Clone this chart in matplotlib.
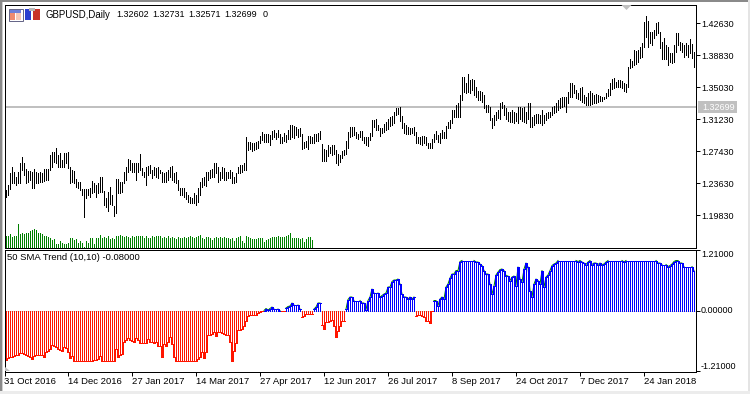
import matplotlib
matplotlib.use("Agg")
import matplotlib.pyplot as plt
import numpy as np
from matplotlib.patches import Rectangle, Polygon

plt.rcParams['font.family'] = ['Liberation Sans', 'DejaVu Sans']

highs = [
    1.2285, 1.2345, 1.2483, 1.2554, 1.2503, 1.2444, 1.2503, 1.2602, 1.2673, 1.2602,
    1.2531, 1.2515, 1.2515, 1.2503, 1.2531, 1.2503, 1.2491, 1.2503, 1.2491, 1.2531,
    1.2531, 1.2531, 1.2701, 1.2741, 1.2741, 1.2780, 1.2701, 1.2721, 1.2642, 1.2721,
    1.2729, 1.2741, 1.2562, 1.2523, 1.2515, 1.2412, 1.2384, 1.2384, 1.2293, 1.2293,
    1.2293, 1.2293, 1.2305, 1.2396, 1.2364, 1.2345, 1.2364, 1.2436, 1.2436, 1.2277,
    1.2186, 1.2265, 1.2325, 1.2226, 1.2095, 1.2412, 1.2412, 1.2384, 1.2384, 1.2503,
    1.2562, 1.2650, 1.2642, 1.2602, 1.2610, 1.2610, 1.2610, 1.2713, 1.2543, 1.2503,
    1.2562, 1.2570, 1.2582, 1.2523, 1.2562, 1.2543, 1.2554, 1.2523, 1.2503, 1.2491,
    1.2503, 1.2523, 1.2562, 1.2570, 1.2483, 1.2503, 1.2404, 1.2305, 1.2305, 1.2305,
    1.2265, 1.2226, 1.2206, 1.2186, 1.2246, 1.2226, 1.2305, 1.2384, 1.2424, 1.2436,
    1.2503, 1.2503, 1.2523, 1.2531, 1.2610, 1.2610, 1.2562, 1.2503, 1.2554, 1.2543,
    1.2503, 1.2503, 1.2523, 1.2503, 1.2444, 1.2483, 1.2562, 1.2582, 1.2582, 1.2602,
    1.2919, 1.2859,
    1.2859, 1.2848, 1.2840, 1.2851, 1.2871, 1.2927, 1.2974, 1.2950, 1.2947, 1.2947,
    1.2939, 1.2982, 1.2998, 1.2966, 1.2998, 1.2950, 1.2919, 1.2958, 1.2939, 1.2998,
    1.3057, 1.3053, 1.3045, 1.3030, 1.3006, 1.3018, 1.2950, 1.2859, 1.2871, 1.2927,
    1.2927, 1.2919, 1.2950, 1.2950, 1.2966, 1.2986, 1.2832, 1.2772, 1.2760, 1.2820,
    1.2800, 1.2820, 1.2820, 1.2760, 1.2713, 1.2701, 1.2748, 1.2760, 1.2867, 1.2978,
    1.3030, 1.3038, 1.3038, 1.2970, 1.2950, 1.2986, 1.2986, 1.2919, 1.2919, 1.2919,
    1.2958, 1.3117, 1.3117, 1.3125, 1.3057, 1.3026, 1.3026, 1.3069, 1.3097, 1.3125,
    1.3156, 1.3164, 1.3216, 1.3255, 1.3255, 1.3275, 1.3164, 1.3077, 1.3057, 1.3038,
    1.3026, 1.3026, 1.3030, 1.2978, 1.2911, 1.2919, 1.2927, 1.2927, 1.2919, 1.2848,
    1.2840, 1.2887, 1.2950, 1.2986, 1.2939, 1.2958, 1.2998, 1.2978, 1.3045, 1.3097,
    1.3117, 1.3235, 1.3235, 1.3295, 1.3314, 1.3414, 1.3631, 1.3631, 1.3552, 1.3659,
    1.3592, 1.3604, 1.3592, 1.3513, 1.3461, 1.3461, 1.3453, 1.3414, 1.3295, 1.3295,
    1.3275, 1.3136, 1.3176, 1.3216, 1.3235,
    1.3314, 1.3334, 1.3295, 1.3255, 1.3215, 1.3215, 1.3235, 1.3215, 1.3196, 1.3275,
    1.3275, 1.3255, 1.3275, 1.3215, 1.3322, 1.3314, 1.3156, 1.3176, 1.3188, 1.3188,
    1.3176, 1.3235, 1.3176, 1.3196, 1.3215, 1.3215, 1.3275, 1.3283, 1.3314, 1.3354,
    1.3374, 1.3386, 1.3394, 1.3394, 1.3453, 1.3552, 1.3560, 1.3532, 1.3473, 1.3433,
    1.3493, 1.3512, 1.3413, 1.3394, 1.3433, 1.3465, 1.3433, 1.3413, 1.3425, 1.3413,
    1.3402, 1.3386, 1.3394, 1.3433, 1.3481, 1.3552, 1.3600, 1.3611, 1.3572, 1.3592,
    1.3592, 1.3584, 1.3552, 1.3544, 1.3750, 1.3837, 1.3821, 1.3948, 1.3940, 1.3948,
    1.3988, 1.4027, 1.4285, 1.4352, 1.4296, 1.4166, 1.4166, 1.4186, 1.4273, 1.4285,
    1.4166, 1.4047, 1.4086, 1.4007, 1.3988, 1.3908, 1.3908, 1.4007, 1.4146, 1.4146,
    1.4047, 1.4035, 1.4007, 1.4027, 1.4007, 1.4075, 1.4019, 1.3928,
]
lows = [
    1.2206, 1.2226, 1.2293, 1.2364, 1.2364, 1.2345, 1.2372, 1.2364, 1.2523, 1.2463,
    1.2364, 1.2384, 1.2404, 1.2305, 1.2305, 1.2364, 1.2372, 1.2384, 1.2384, 1.2396,
    1.2404, 1.2404, 1.2523, 1.2562, 1.2622, 1.2602, 1.2562, 1.2554, 1.2554, 1.2562,
    1.2602, 1.2543, 1.2372, 1.2384, 1.2364, 1.2325, 1.2305, 1.2285, 1.2226, 1.1960,
    1.2186, 1.2226, 1.2206, 1.2246, 1.2265, 1.2206, 1.2246, 1.2265, 1.2265, 1.2107,
    1.2087, 1.2040, 1.2119, 1.2107, 1.1976, 1.2008, 1.2246, 1.2246, 1.2265, 1.2364,
    1.2404, 1.2503, 1.2523, 1.2503, 1.2503, 1.2404, 1.2503, 1.2523, 1.2463, 1.2444,
    1.2345, 1.2463, 1.2483, 1.2424, 1.2463, 1.2444, 1.2424, 1.2483, 1.2384, 1.2384,
    1.2384, 1.2404, 1.2444, 1.2404, 1.2384, 1.2364, 1.2285, 1.2226, 1.2226, 1.2206,
    1.2174, 1.2147, 1.2135, 1.2135, 1.2127, 1.2107, 1.2147, 1.2226, 1.2325, 1.2345,
    1.2333, 1.2404, 1.2424, 1.2444, 1.2444, 1.2483, 1.2384, 1.2404, 1.2424, 1.2404,
    1.2404, 1.2424, 1.2424, 1.2364, 1.2372, 1.2384, 1.2483, 1.2483, 1.2503, 1.2523,
    1.2523, 1.2760,
    1.2768, 1.2752, 1.2760, 1.2768, 1.2788, 1.2840, 1.2879, 1.2859, 1.2859, 1.2859,
    1.2820, 1.2887, 1.2911, 1.2887, 1.2911, 1.2848, 1.2848, 1.2867, 1.2859, 1.2887,
    1.2887, 1.2911, 1.2899, 1.2939, 1.2919, 1.2927, 1.2776, 1.2780, 1.2800, 1.2768,
    1.2840, 1.2840, 1.2848, 1.2871, 1.2871, 1.2887, 1.2634, 1.2634, 1.2634, 1.2689,
    1.2729, 1.2701, 1.2713, 1.2602, 1.2582, 1.2622, 1.2661, 1.2701, 1.2713, 1.2780,
    1.2911, 1.2927, 1.2939, 1.2899, 1.2887, 1.2911, 1.2879, 1.2848, 1.2820, 1.2808,
    1.2879, 1.2927, 1.3038, 1.2998, 1.2998, 1.2927, 1.2966, 1.2978, 1.2998, 1.3006,
    1.3045, 1.3057, 1.3077, 1.3176, 1.3188, 1.3109, 1.3018, 1.2966, 1.2950, 1.2950,
    1.2947, 1.2958, 1.2939, 1.2840, 1.2840, 1.2832, 1.2820, 1.2840, 1.2820, 1.2780,
    1.2780, 1.2780, 1.2859, 1.2887, 1.2859, 1.2848, 1.2899, 1.2899, 1.2899, 1.3018,
    1.3018, 1.3077, 1.3156, 1.3156, 1.3156, 1.3156, 1.3354, 1.3453, 1.3433, 1.3453,
    1.3433, 1.3473, 1.3414, 1.3394, 1.3354, 1.3354, 1.3334, 1.3255, 1.3216, 1.3216,
    1.3117, 1.3026, 1.3057, 1.3117, 1.3136,
    1.3124, 1.3255, 1.3176, 1.3124, 1.3108, 1.3097, 1.3097, 1.3085, 1.3108, 1.3077,
    1.3124, 1.3108, 1.3097, 1.3085, 1.3124, 1.3037, 1.3037, 1.3057, 1.3077, 1.3085,
    1.3077, 1.3057, 1.3077, 1.3116, 1.3136, 1.3156, 1.3176, 1.3196, 1.3215, 1.3235,
    1.3255, 1.3275, 1.3283, 1.3215, 1.3314, 1.3394, 1.3394, 1.3433, 1.3374, 1.3362,
    1.3354, 1.3334, 1.3314, 1.3295, 1.3295, 1.3295, 1.3306, 1.3314, 1.3322, 1.3334,
    1.3346, 1.3346, 1.3362, 1.3374, 1.3402, 1.3413, 1.3481, 1.3493, 1.3504, 1.3512,
    1.3504, 1.3493, 1.3465, 1.3453, 1.3504, 1.3730, 1.3742, 1.3770, 1.3782, 1.3809,
    1.3849, 1.3861, 1.3988, 1.4106, 1.3988, 1.4027, 1.4007, 1.4086, 1.4126, 1.4146,
    1.3968, 1.3837, 1.3837, 1.3837, 1.3770, 1.3809, 1.3790, 1.3809, 1.3928, 1.4007,
    1.3948, 1.3928, 1.3869, 1.3889, 1.3861, 1.3916, 1.3849, 1.3750,
]
volumes = [
    12, 12, 14, 11, 12, 12, 24, 14, 15, 14, 15, 15, 17, 18, 19, 18, 15, 15, 14, 12,
    12, 11, 10, 8, 9, 4, 4, 7, 5, 4, 4, 5, 10, 10, 8, 9, 5, 7, 5, 1,
    7, 5, 10, 10, 4, 10, 10, 13, 10, 11, 10, 12, 9, 10, 9, 12, 12, 13, 12, 11,
    12, 11, 10, 12, 11, 12, 12, 12, 12, 10, 12, 10, 10, 12, 11, 12, 12, 12, 10, 11,
    10, 12, 10, 11, 10, 9, 11, 10, 10, 11, 10, 11, 12, 11, 10, 11, 12, 13, 10, 9,
    11, 11, 10, 8, 10, 11, 10, 11, 10, 11, 10, 10, 9, 10, 7, 10, 11, 12, 7, 5,
    12, 11, 10, 9, 9, 9, 10, 10, 10, 6, 8, 9, 10, 11, 11, 11, 12, 11, 11, 11,
    12, 13, 15, 10, 10, 10, 10, 9, 10, 6, 9, 11, 11, 8,
]
trend = [
    -.98, -.95, -.92, -.92, -.90, -.89, -.89, -.85, -.85, -.87,
    -.89, -.90, -.93, -.97, -.91, -.89, -.89, -.89, -.89, -.93,
    -.83, -.81, -.77, -.69, -.70, -.72, -.77, -.78, -.80, -.72,
    -.75, -.83, -.95, -.90, -1, -1, -1, -1, -1, -1,
    -1, -1, -1, -1, -.99, -.99, -.97, -.91, -1, -1,
    -1, -1, -1, -1, -1, -.77, -.92, -.89, -.87, -.63,
    -.59, -.55, -.59, -.60, -.63, -.55, -.59, -.65, -.65, -.65,
    -.65, -.57, -.63, -.63, -.65, -.63, -.70, -.70, -.93, -.67,
    -.70, -.63, -.53, -.67, -.93, -1, -1, -1, -1, -1,
    -1, -1, -1, -1, -1, -1, -.97, -.92, -.82, -.95,
    -.82, -.49, -.49, -.47, -.42, -.50, -.43, -.42, -.45, -.47,
    -.49, -.49, -.63, -1, -.80, -.65, -.38, -.38, -.37, -.30,
    -.20, -.11,
    -.09, -.09, -.09, -.08, -.04, -.02, -.01, 0, .04, .01,
    .04, .07, .03, .03, .03, 0, -.01, -.01, .05, .08,
    .09, .15, .11, .11, .11, .03, -.13, -.10, -.07, -.07,
    -.07, -.06, .03, .07, .15, .15, -.29, -.37, -.23, -.22,
    -.21, -.18, -.30, -.53, -.40, -.31, -.20, -.21, .03, .22,
    .27, .27, .20, .20, .20, .20, .15, .15, .02, .20,
    .27, .43, .35, .35, .35, .27, .30, .33, .35, .47,
    .47, .58, .61, .61, .63, .53, .33, .27, .27, .23,
    .27, .23, .27, -.10, -.09, -.09, -.10, -.13, -.20, -.20,
    -.25, -.01, .20, .20, .10, .23, .27, .23, .47, .53,
    .65, .73, .73, .80, .80, .98, 1, 1, 1, 1,
    1, 1, 1, .97, .97, .93, .90, .80, .73, .73,
    .53, .33, .49, .71, .77,
    .82, .83, .80, .70, .69, .60, .67, .69, .50, .87,
    .63, .57, .83, .95, .87, .40, .27, .53, .63, .60,
    .53, .80, .47, .67, .71, .80, .90, .93, .95, 1,
    1, 1, 1, 1, 1, 1, 1, 1, 1, .98, 1, .97, .95, .92, .97, 1,
    .92, .95, .95, .92, .95, .92, .93, .97,
    1, 1, 1, 1, 1, 1, 1, 1, .97,
    1, 1, 1, 1, 1, 1, 1, 1, 1, 1, 1, 1, 1, 1, 1, 1,
    .95, .95, .92, .92, .92, .88, .90, .93, .98, 1, 1, .95, .95, .88,
    .88, .88, .88, .88, .80,
]
price_ticks = [1.19830, 1.23630, 1.27430, 1.31230, 1.35030, 1.38830, 1.42630]
trend_ticks = [-1.21, 0.0, 1.21]
date_bars = [-0.75, 31, 63, 95, 127, 159, 191, 223, 255, 287, 319]
date_labels = ['31 Oct 2016', '14 Dec 2016', '27 Jan 2017', '14 Mar 2017', '27 Apr 2017',
               '12 Jun 2017', '26 Jul 2017', '8 Sep 2017', '24 Oct 2017', '7 Dec 2017',
               '24 Jan 2018']
quote = ['1.32602', '1.32731', '1.32571', '1.32699', '0']
quote_x = [116, 152, 188, 224, 263]
last_price = 1.32699

W, H = 750, 394
FS = 6.8
FS_NUM = 6.5
LW = 0.72


def px_axes(left, top, right, bottom, **kw):
    return fig.add_axes([left / W, 1 - bottom / H, (right - left) / W, (bottom - top) / H], **kw)


fig = plt.figure(figsize=(W / 100, H / 100), dpi=100, facecolor='white')

# window frame and bits drawn in pixel coordinates
bg = px_axes(0, 0, W, H)
bg.set_xlim(0, W)
bg.set_ylim(H, 0)
bg.axis('off')
bg.add_patch(Rectangle((0, 0), 2, H, color='#8a8a8a', lw=0))
bg.add_patch(Rectangle((0, 0), W, 2, color='#8a8a8a', lw=0))
bg.add_patch(Rectangle((2, 2), 1, H, color='#d0d0d0', lw=0))
bg.add_patch(Rectangle((748, 0), 2, H, color='#e4e4e4', lw=0))
bg.add_patch(Rectangle((0, 391), W, 3, color='#ececec', lw=0))

x = np.arange(len(highs))
xlim = (-0.75, 344.75)

# price pane
ax = px_axes(4.5, 4.5, 695.5, 247.5)
ax.set_xlim(*xlim)
ax.set_ylim(1.16030, 1.44886)
ax.axhline(last_price, color='#c0c0c0', lw=1.44, zorder=1)
ax.vlines(x, lows, highs, colors='black', lw=LW, antialiased=False, zorder=3)
ax.set_xticks([])
ax.yaxis.tick_right()
ax.set_yticks(price_ticks)
ax.set_yticklabels(['%.5f' % p for p in price_ticks], fontsize=FS_NUM)
ax.tick_params(axis='y', length=3.2, width=LW, pad=0.8)
for s in ax.spines.values():
    s.set_linewidth(LW)
ax.patch.set_alpha(0)

# volumes share the pane, own scale
vol = px_axes(4.5, 4.5, 695.5, 247.5)
vol.set_xlim(*xlim)
vol.set_ylim(0, 243)
vol.axis('off')
vol.vlines(np.arange(len(volumes)), 0, volumes, colors='#008000', lw=LW, antialiased=False)

# indicator pane
sub = px_axes(4.5, 249.5, 695.5, 371.5)
sub.set_xlim(*xlim)
sub.set_ylim(-1.22, 1.22)
t = np.array(trend)
xt = np.arange(len(t))
# green only shows on the slopes, flat runs stay blue
flat = np.r_[False, t[1:] == t[:-1]] & np.r_[t[1:] == t[:-1], False]
green = np.where((t >= 0) & ~flat, t, np.nan)
sub.axhline(0, color='#c0c0c0', lw=LW, dashes=(2, 2), zorder=1)
sub.plot(xt, green, color='#008000', lw=LW, zorder=2)
sub.vlines(xt, 0, t, colors=['#0000ff' if v >= 0 else '#ff1500' for v in t],
           lw=LW, antialiased=False, zorder=3)
sub.plot(xt, np.where(t >= 0, t, np.nan), color='#0000ff', lw=LW, drawstyle='steps-mid',
         antialiased=False, zorder=4)
sub.plot(xt, np.where(t < 0, t, np.nan), color='#ff1500', lw=LW, drawstyle='steps-mid',
         antialiased=False, zorder=4)
sub.yaxis.tick_right()
sub.set_yticks(trend_ticks)
labels = sub.set_yticklabels(['%.5f' % v for v in trend_ticks], fontsize=FS_NUM)
labels[0].set_va('bottom')
labels[1].set_va('center')
labels[2].set_va('top')
sub.set_xticks(date_bars)
xl = sub.set_xticklabels(date_labels, fontsize=FS)
for lab in xl:
    lab.set_ha('left')
sub.tick_params(axis='y', length=3.2, width=LW, pad=0.8)
sub.tick_params(axis='x', length=3, width=LW, pad=1.2)
for s in sub.spines.values():
    s.set_linewidth(LW)

# overlay for header text, icons and markers
top = px_axes(0, 0, W, H)
top.set_xlim(0, W)
top.set_ylim(H, 0)
top.axis('off')
top.text(45, 14.5, 'GBPUSD,Daily', fontsize=6.9, va='center')
for q, qx in zip(quote, quote_x):
    top.text(qx, 14.5, q, fontsize=FS_NUM, va='center')
top.text(7, 258, '50 SMA Trend (10,10) -0.08000', fontsize=FS, va='center')
top.add_patch(Rectangle((698, 101), 39, 12, color='#c0c0c0', lw=0))
top.text(702, 107, '%.5f' % last_price, fontsize=FS_NUM, color='white', va='center')
top.add_patch(Polygon([(621.5, 5), (631.5, 5), (626.5, 10)], color='#c0c0c0', lw=0))
top.add_patch(Polygon([(5, 367), (5, 371), (9.5, 371)], color='#c0c0c0', lw=0))
# toolbar icons
top.add_patch(Rectangle((8.5, 8.5), 14, 12, fc='white', ec='#666688', lw=LW))
top.add_patch(Rectangle((10, 10), 11, 2.5, color='#6f7fd8', lw=0))
top.add_patch(Rectangle((10, 13), 5, 6.5, color='#f08a70', lw=0))
top.add_patch(Rectangle((16, 13), 5, 6.5, color='#f8c8b8', lw=0))
top.add_patch(Rectangle((25, 9), 6, 11, color='#2a3fd0', lw=0))
top.add_patch(Rectangle((33, 9), 7, 11, color='#c8322a', lw=0))
top.add_patch(Rectangle((29, 8), 6, 3, color='#b8b8b8', lw=0))

fig.savefig('out.png', dpi=100)
